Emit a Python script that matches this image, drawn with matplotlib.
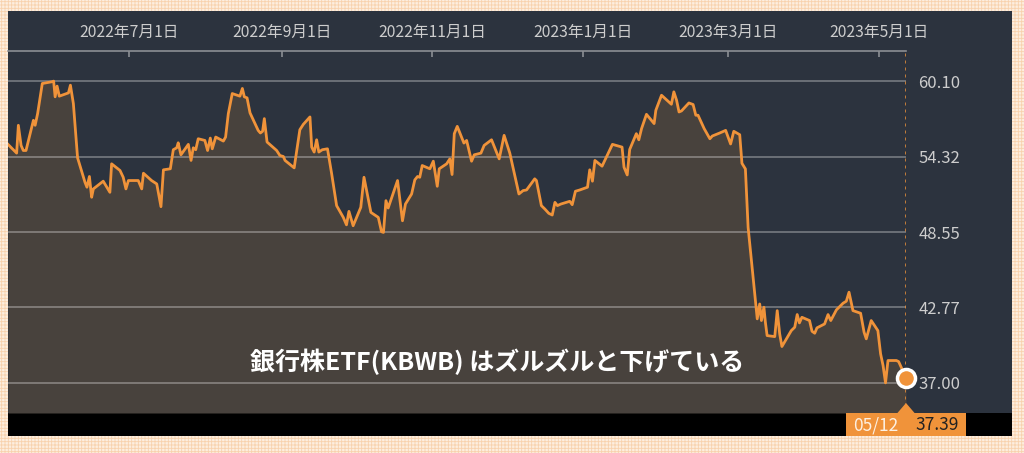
import matplotlib
matplotlib.use("Agg")
import matplotlib.pyplot as plt
import pandas as pd
from matplotlib.patches import Rectangle, Polygon

plt.rcParams['font.family'] = ['Noto Sans CJK JP', 'DejaVu Sans']
plt.rcParams['hatch.linewidth'] = 0.6

# KBWB daily close (calendar days after start_date)
start_date = pd.Timestamp("2022-05-12")
day_offsets = [
    1, 4.5, 5.2, 6.3, 7.2, 8.3, 11.3, 12.0, 13.0, 14.9, 18.7, 19.5, 20.1, 20.9, 21.8,
    25.5, 26.3, 27.5, 29.2, 32.2, 33.0, 34.0, 34.9, 35.6, 39.6, 40.7, 42.3, 43.0, 46.4,
    47.7, 48.8, 49.8, 53.8, 55.2, 55.9, 59.2, 61.3, 63.0, 64.0, 66.8, 68.0, 69.4, 70.0,
    71.1, 74.1,
    75.2, 76.1, 77.1, 78.1, 80.8, 81.9, 83.0, 83.8, 85.2, 88.3, 89.2, 90.3, 91.9, 95.0,
    96.0, 96.8, 97.9, 99.1, 102.4, 103.3, 104.2, 104.9, 106.0, 109.9, 111.2, 112.6, 113.3,
    117.0, 119.3, 120.7, 123.4, 124.1, 125.1, 126.1, 127.0, 128.4, 130.5, 132.2, 134.2,
    136.9, 138.2, 139.2, 140.9, 144.0, 145.3,
    148.1, 151.1, 152.4, 153.2, 154.2, 155.1, 158.9, 160.9, 162.1, 164.6, 165.9, 167.0,
    167.9, 168.9, 172.0, 173.4, 175.0, 175.8, 178.8, 180.1, 181.0, 181.9, 183.1, 185.8,
    186.9, 188.9, 190.0, 192.7, 194.0, 197.0, 200.1, 202.1, 204.4, 208.1, 209.8, 211.2,
    214.5, 215.2, 217.2, 218.6,
    220.2, 221.6, 222.7, 223.7, 225.1, 228.7, 229.7, 231.0, 232.8, 235.9, 236.8, 237.9,
    238.9, 241.8, 244.3, 246.0, 249.9, 250.7, 252.0, 253.0, 255.7, 256.7, 257.8, 259.8,
    262.9, 263.6, 265.9, 269.9, 270.9, 272.0, 273.0, 274.0, 277.0, 278.7, 279.8, 280.7,
    283.2, 285.5, 286.5, 289.5, 291.9,
    293.9, 295.2, 297.6, 298.5, 299.9, 301.0, 304.7, 305.7, 306.4, 307.4, 308.0, 308.7,
    311.8, 312.8, 313.8, 314.7, 318.5, 319.9, 320.9, 321.8, 322.8, 325.9, 326.9, 328.0,
    328.9, 332.0, 333.4, 334.5, 336.8, 339.5, 340.8, 341.9, 343.5, 346.6, 348.0, 348.9,
    350.9, 353.6, 354.7, 355.7, 356.7, 357.7, 361.1, 362.0, 365,
]
prices = [
    55.26, 54.59, 56.72, 55.18, 54.79, 54.79, 57.10, 56.72, 57.61, 59.92, 60.05, 60.10, 58.90, 59.72, 58.95,
    59.20, 59.79, 58.38, 54.23, 52.36, 51.98, 52.80, 51.21, 51.85, 52.44, 52.10, 51.59, 53.77, 53.26,
    52.74, 51.85, 52.49, 52.49, 51.85, 53.05, 52.49, 52.23, 50.49, 53.31, 53.39, 54.85, 55.00, 55.38,
    54.46, 55.26,
    54.03, 55.00, 54.85, 55.69, 55.56, 54.79, 55.74, 54.92, 55.82, 55.51, 55.82, 57.61, 59.15, 58.95,
    59.54, 58.90, 58.82, 57.67, 56.33, 56.13, 56.26, 57.23, 55.44, 54.79, 54.41, 54.33, 54.03,
    53.46, 56.38, 56.79, 57.36, 55.05, 54.67, 55.61, 54.67, 54.85, 54.92, 53.00, 50.57,
    49.67, 49.10, 50.13, 49.03, 50.44, 52.74,
    50.05, 49.67, 48.57, 48.52, 50.95, 50.39, 52.49, 49.41, 50.69, 51.46, 52.54, 52.80,
    52.74, 53.64, 53.39, 53.97, 52.05, 53.39, 53.77, 54.15, 52.95, 56.08, 56.64, 55.36,
    55.56, 53.97, 54.46, 54.59, 55.18, 55.61, 54.15, 55.95, 54.59, 51.46, 51.72, 51.77,
    52.62, 52.49, 50.57, 50.31,
    49.98, 49.85, 50.82, 50.57, 50.69, 50.90, 50.64, 51.67, 51.77, 51.98, 53.31, 52.44,
    54.03, 53.59, 54.59, 55.26, 55.05, 53.51, 52.92, 54.87, 56.08, 55.61, 56.46, 57.56,
    56.85, 57.87, 59.02, 58.33, 59.28, 58.64, 57.74, 57.82, 58.43, 58.31, 57.49, 57.49,
    56.46, 55.69, 55.90, 56.13, 56.33,
    55.29, 56.26, 56.00, 53.81, 53.38, 48.91, 41.90, 43.04, 41.77, 42.79, 41.64, 40.62,
    40.54, 42.53, 40.75, 39.78, 41.00, 41.26, 42.23, 41.59, 42.02, 41.77, 40.95, 40.80,
    41.21, 41.51, 42.23, 41.77, 42.59, 43.10, 43.25, 43.94, 42.53, 42.33, 40.88, 40.37,
    41.77, 41.00, 39.22, 38.33, 37.00, 38.71, 38.71, 38.63, 37.39,
]
x_tick_dates = ["2022-07-01", "2022-09-01", "2022-11-01", "2023-01-01", "2023-03-01", "2023-05-01"]
y_ticks = [37.00, 42.77, 48.55, 54.32, 60.10]
caption = "銀行株ETF(KBWB) はズルズルと下げている"

ORANGE = "#f0933a"
PANEL = "#2c333e"
FILL = "#48423d"
TXT = "#cdcdcd"

W, H = 1024, 453
fig = plt.figure(figsize=(W / 100, H / 100), dpi=100)
fig.patch.set_facecolor("#fdeedf")


def fx(px):
    return px / W


def fy(py):
    return 1 - py / H


# checkered paper behind the panel
fig.add_artist(Rectangle((0, 0), 1, 1, transform=fig.transFigure, facecolor="none",
                         edgecolor="#f8d2ad", hatch="+++++", lw=0, zorder=-3))

# dark panel + black strip at the bottom
fig.add_artist(Rectangle((fx(8), fy(436)), (1012 - 8) / W, (436 - 11) / H,
                         transform=fig.transFigure, facecolor=PANEL, edgecolor="none", zorder=-2))
fig.add_artist(Rectangle((fx(8), fy(436)), (1012 - 8) / W, (436 - 413) / H,
                         transform=fig.transFigure, facecolor="black", edgecolor="none", zorder=-1))

ax = fig.add_axes([fx(8), fy(413), (906 - 8) / W, (413 - 51) / H])
ax.set_facecolor("none")

dates = start_date + pd.to_timedelta(day_offsets, unit="D")
step = y_ticks[1] - y_ticks[0]
y_lo, y_hi = y_ticks[0] - 0.4 * step, y_ticks[-1] + 0.4 * step

ax.fill_between(dates, prices, y_lo, color=FILL, lw=0, zorder=1)
ax.plot(dates, prices, color=ORANGE, lw=2, zorder=3)

ax.set_xlim(start_date + pd.Timedelta(days=1), start_date + pd.Timedelta(days=365))
ax.set_ylim(y_lo, y_hi)

# grid over the fill, under the line
ax.set_axisbelow("line")
ax.yaxis.grid(True, color="white", alpha=0.35, lw=1.2)

for s in ["left", "right", "bottom"]:
    ax.spines[s].set_visible(False)
ax.spines["top"].set_color("#8c8f94")
ax.spines["top"].set_linewidth(1.2)

tick_dates = pd.to_datetime(x_tick_dates)
ax.xaxis.tick_top()
ax.set_xticks(tick_dates)
ax.set_xticklabels([f"{d.year}年{d.month}月{d.day}日" for d in tick_dates])
ax.tick_params(axis="x", direction="in", length=4, width=1.2, color="#8c8f94",
               labelcolor=TXT, labelsize=11.3, pad=7)

ax.yaxis.tick_right()
ax.set_yticks(y_ticks)
ax.set_yticklabels([f"{v:.2f}" for v in y_ticks])
ax.tick_params(axis="y", length=0, pad=9, labelcolor=TXT, labelsize=12)

# last value marker + dotted guide
last_d, last_p = dates[-1], prices[-1]
ax.axvline(last_d, color=ORANGE, lw=1.8, ls=(0, (1.2, 1.6)), zorder=4)
ax.plot([last_d], [last_p], "o", ms=13, mfc=ORANGE, mec="white", mew=2.5,
        clip_on=False, zorder=5)

ax.text(0.5445, 0.14, caption, transform=ax.transAxes, ha="center", va="center",
        color="white", fontsize=18, fontweight="bold", zorder=6)

# tooltip box at the bottom
fig.add_artist(Rectangle((fx(846), fy(436)), 120 / W, 23 / H, transform=fig.transFigure,
                         facecolor=ORANGE, edgecolor="none", zorder=5))
fig.add_artist(Polygon([(fx(897), fy(413.5)), (fx(906), fy(403)), (fx(915), fy(413.5))],
                       transform=fig.transFigure, facecolor=ORANGE, edgecolor="none", zorder=5))
fig.text(fx(876), fy(425), last_d.strftime("%m/%d"), color="#fdf0e2", fontsize=12.5,
         ha="center", va="center", zorder=6)
fig.text(fx(937), fy(425), f"{last_p:.2f}", color="#222222", fontsize=12.5,
         ha="center", va="center", zorder=6)

fig.savefig("out.png", dpi=100, facecolor=fig.get_facecolor())
